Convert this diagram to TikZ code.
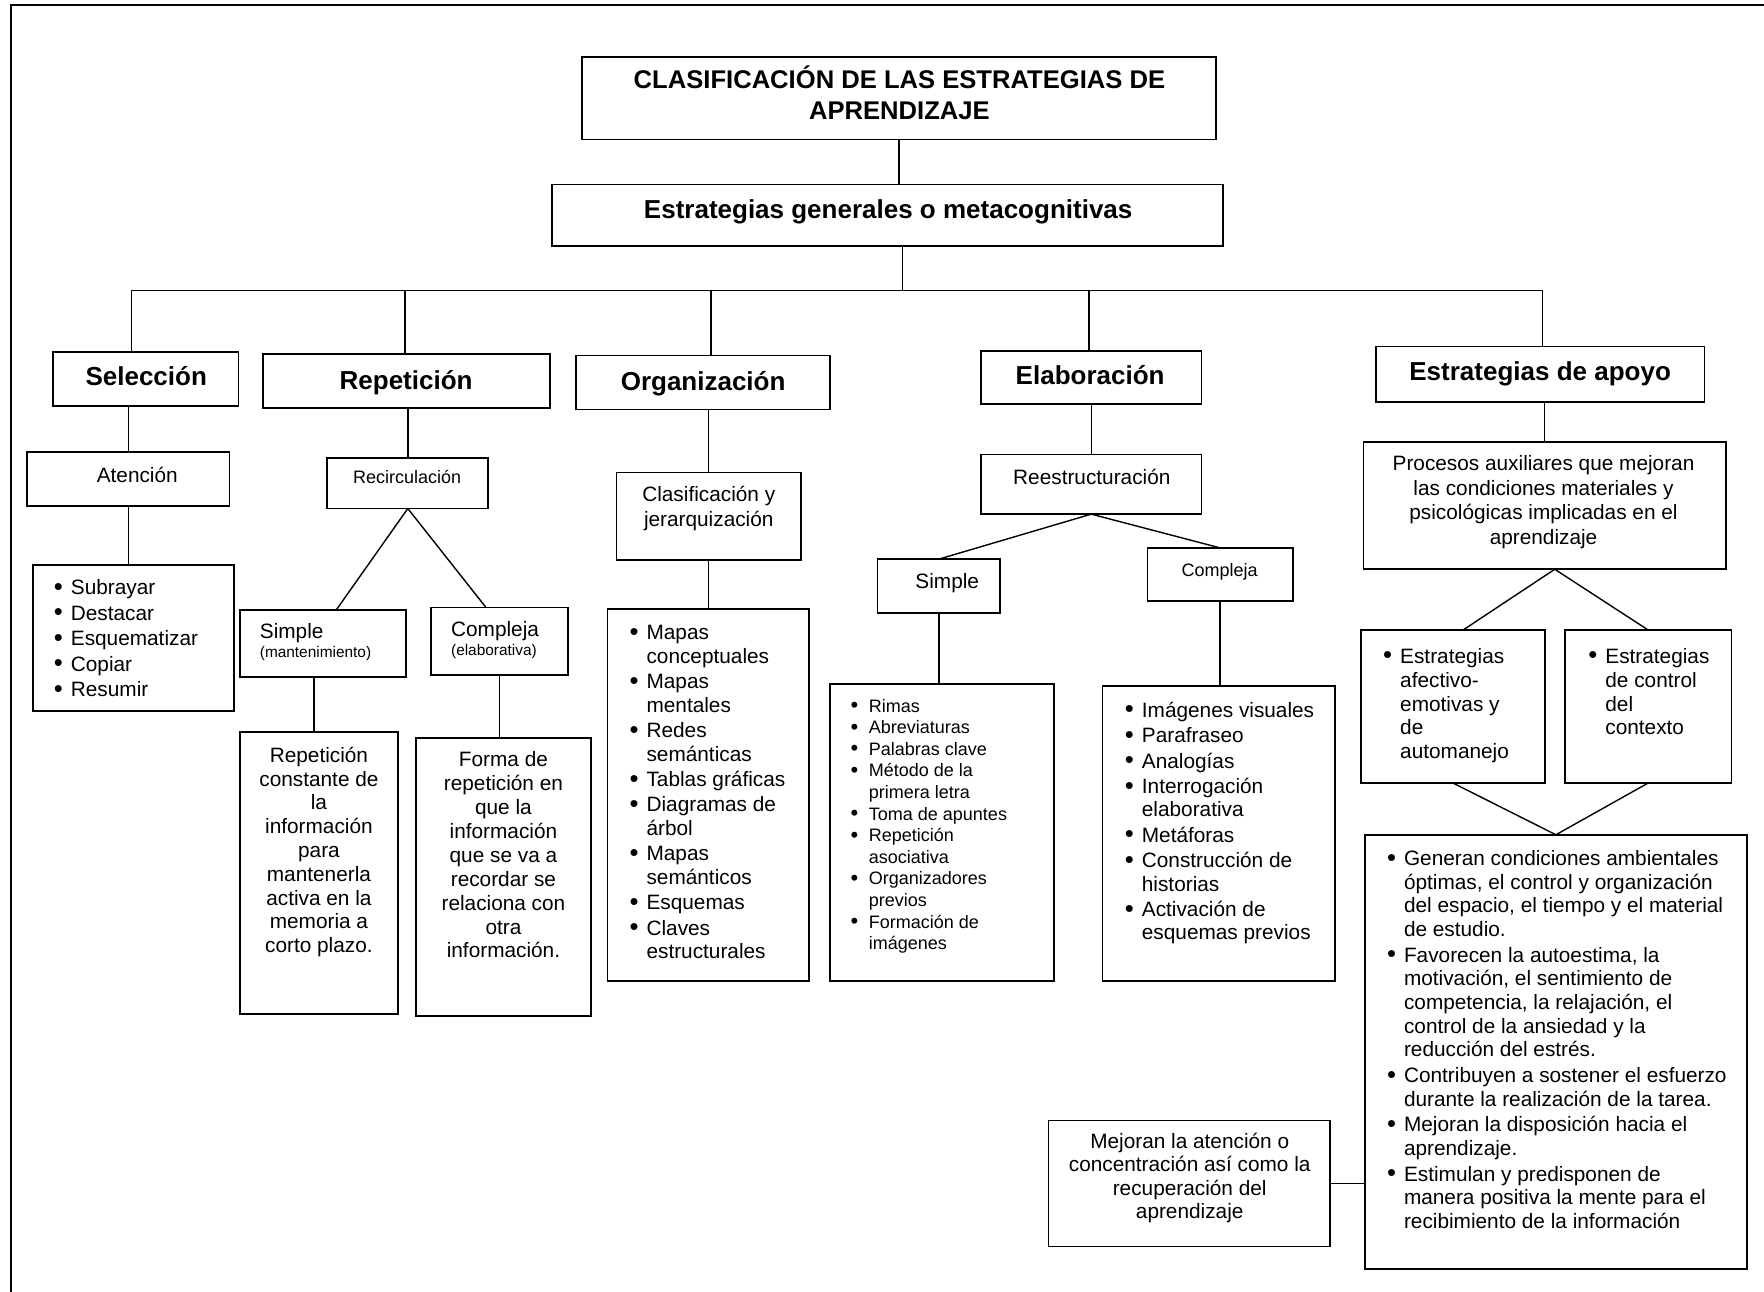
\documentclass[tikz,border=0pt]{standalone}
\usepackage{fontspec}
\setmainfont{Liberation Sans}
\usepackage{array}

% one drawing unit
\newcommand\pxu{0.5625pt}

% type sizes
\newcommand\fTitle{\fontsize{12.8}{15.2}\bfseries\selectfont}
\newcommand\fHead{\fontsize{13}{15.6}\bfseries\selectfont}
\newcommand\fBody[1]{\fontsize{10.4}{#1}\selectfont}
\newcommand\fSmall[1]{\fontsize{9}{#1}\selectfont}
\newcommand\fTiny{\fontsize{7.7}{9}\selectfont}

% list bullets, a little heavier than the text bullet
\newcommand\bul{\raisebox{-0.3pt}{\fontsize{12.8}{12}\selectfont\textbullet}}
\newcommand\bus{\raisebox{-0.25pt}{\fontsize{11}{10}\selectfont\textbullet}}

% text blocks: first baseline is the node's base
\newcommand\ctext[1]{\begin{tabular}[t]{@{}c@{}}#1\end{tabular}}
\newcommand\ltext[1]{\begin{tabular}[t]{@{}l@{}}#1\end{tabular}}
\newcommand\blist[2]{\begin{tabular}[t]{@{}p{#1}@{}l@{}}#2\end{tabular}}

\tikzset{
  cbox/.style n args={4}{draw, line width=0.9pt, inner sep=0pt, outer sep=0pt,
    minimum width={(#3-#1)*\pxu}, minimum height={(#4-#2)*\pxu},
    at={({(#1+#3)/2},{(#2+#4)/2})}},
  conn/.style={line width=0.7pt},
  txt/.style={inner sep=0pt, outer sep=0pt},
}

\begin{document}
\begin{tikzpicture}[x=0.5625pt, y=-0.5625pt]
\useasboundingbox (0,0) rectangle (1568,1148);

% page frame (top and left rules)
\draw[line width=1.1pt] (9.8,1148) -- (9.8,4.4) -- (1568,4.4);

% ---------- boxes ----------
\node[cbox={517}{51}{1081}{124}] (title) {};
\node[cbox={491}{164}{1087}{219}] (gen) {};
\node[cbox={47}{313}{212}{361}] (sel) {};
\node[cbox={234}{315}{489}{363}] (rep) {};
\node[cbox={512}{316}{738}{364}] (org) {};
\node[cbox={872}{312}{1068}{359}] (ela) {};
\node[cbox={1223}{308}{1515}{357}] (apo) {};
\node[cbox={24}{402}{204}{450}] (aten) {};
\node[cbox={291}{407}{434}{452}] (recirc) {};
\node[cbox={548}{420}{712}{498}] (clas) {};
\node[cbox={872}{404}{1068}{457}] (reest) {};
\node[cbox={1212}{393}{1534}{506}] (proc) {};
\node[cbox={29}{502}{208}{632}] (sellist) {};
\node[cbox={213}{542}{361}{602}] (simp) {};
\node[cbox={383}{540}{505}{600}] (comp) {};
\node[cbox={213}{651}{354}{901}] (repc) {};
\node[cbox={370}{656}{525}{903}] (forma) {};
\node[cbox={540}{541}{719}{872}] (orglist) {};
\node[cbox={780}{497}{889}{545}] (esimp) {};
\node[cbox={1020}{487}{1149}{534}] (ecomp) {};
\node[cbox={738}{608}{937}{872}] (eslist) {};
\node[cbox={980}{610}{1187}{872}] (eclist) {};
\node[cbox={1210}{560}{1373}{696}] (afec) {};
\node[cbox={1391}{560}{1539}{696}] (ctrl) {};
\node[cbox={1213}{742}{1553}{1128}] (big) {};
\node[cbox={932}{996}{1182}{1108}] (mej) {};

% ---------- texts ----------
\node[txt, anchor=base, font=\fTitle] (titleT) at (799.5,79)
  {\ctext{CLASIFICACIÓN DE LAS ESTRATEGIAS DE\\APRENDIZAJE}};
\node[txt, anchor=base, font=\fHead] (genT) at (789.5,194) {Estrategias generales o metacognitivas};
\node[txt, anchor=base, font=\fHead] (selT) at (130,343) {Selección};
\node[txt, anchor=base, font=\fHead] (repT) at (361,346) {Repetición};
\node[txt, anchor=base, font=\fHead] (orgT) at (625,347) {Organización};
\node[txt, anchor=base, font=\fHead] (elaT) at (969,342) {Elaboración};
\node[txt, anchor=base, font=\fHead] (apoT) at (1369,338) {Estrategias de apoyo};

\node[txt, anchor=base, font=\fBody{12}] (atenT) at (122,428.5) {Atención};
\node[txt, anchor=base, font=\fSmall{11}] (recircT) at (362,430) {Recirculación};
\node[txt, anchor=base, font=\fBody{12.4}] (clasT) at (630,445.5)
  {\ctext{Clasificación y\\jerarquización}};
\node[txt, anchor=base, font=\fBody{12}] (reestT) at (970.5,430.5) {Reestructuración};
\node[txt, anchor=base, font=\fBody{12.2}] (procT) at (1372,418.5)
  {\ctext{Procesos auxiliares que mejoran\\las condiciones materiales y\\psicológicas implicadas en el\\aprendizaje}};

\node[txt, anchor=base west, font=\fBody{12.8}] (sellistT) at (47.9,528.5)
  {\blist{8.5pt}{\bul & Subrayar\\ \bul & Destacar\\ \bul & Esquematizar\\ \bul & Copiar\\ \bul & Resumir}};

\node[txt, anchor=base west, font=\fBody{9.3}] (simpT) at (231,567.5)
  {\ltext{Simple\\{\fTiny(mantenimiento)}}};
\node[txt, anchor=base west, font=\fBody{9.8}] (compT) at (401,565.5)
  {\ltext{Compleja\\{\fTiny(elaborativa)}}};

\node[txt, anchor=base, font=\fBody{11.9}] (repcT) at (283.5,677.5)
  {\ctext{Repetición\\constante de\\la\\información\\para\\mantenerla\\activa en la\\memoria a\\corto plazo.}};
\node[txt, anchor=base, font=\fBody{11.95}] (formaT) at (447.5,681.5)
  {\ctext{Forma de\\repetición en\\que la\\información\\que se va a\\recordar se\\relaciona con\\otra\\información.}};

\node[txt, anchor=base west, font=\fBody{11.8}] (orglistT) at (559.6,568.5)
  {\blist{8.5pt}{%
   \bul & Mapas\\ & conceptuales\\[0.9pt]
   \bul & Mapas\\ & mentales\\[0.9pt]
   \bul & Redes\\ & semánticas\\[0.9pt]
   \bul & Tablas gráficas\\[0.9pt]
   \bul & Diagramas de\\ & árbol\\[0.9pt]
   \bul & Mapas\\ & semánticos\\[0.9pt]
   \bul & Esquemas\\[0.9pt]
   \bul & Claves\\ & estructurales}};

\node[txt, anchor=base, font=\fBody{12}] (esimpT) at (842,523.5) {Simple};
\node[txt, anchor=base, font=\fSmall{11}] (ecompT) at (1084,512) {Compleja};

\node[txt, anchor=base west, font=\fSmall{10.8}] (eslistT) at (756.2,633)
  {\blist{9.1pt}{%
   \bus & Rimas\\
   \bus & Abreviaturas\\
   \bus & Palabras clave\\
   \bus & Método de la\\ & primera letra\\
   \bus & Toma de apuntes\\
   \bus & Repetición\\ & asociativa\\
   \bus & Organizadores\\ & previos\\
   \bus & Formación de\\ & imágenes}};

\node[txt, anchor=base west, font=\fBody{11.7}] (eclistT) at (999.9,637.5)
  {\blist{8.5pt}{%
   \bul & Imágenes visuales\\[1pt]
   \bul & Parafraseo\\[1pt]
   \bul & Analogías\\[1pt]
   \bul & Interrogación\\ & elaborativa\\[1pt]
   \bul & Metáforas\\[1pt]
   \bul & Construcción de\\ & historias\\[1pt]
   \bul & Activación de\\ & esquemas previos}};

\node[txt, anchor=base west, font=\fBody{11.95}] (afecT) at (1229.5,589.5)
  {\blist{8.5pt}{\bul & Estrategias\\ & afectivo-\\ & emotivas y\\ & de\\ & automanejo}};
\node[txt, anchor=base west, font=\fBody{11.95}] (ctrlT) at (1411.9,589.5)
  {\blist{8.5pt}{\bul & Estrategias\\ & de control\\ & del\\ & contexto}};

\node[txt, anchor=base west, font=\fBody{11.8}] (bigT) at (1232.9,769.5)
  {\blist{8.5pt}{%
   \bul & Generan condiciones ambientales\\
    & óptimas, el control y organización\\
    & del espacio, el tiempo y el material\\
    & de estudio.\\[1.1pt]
   \bul & Favorecen la autoestima, la\\
    & motivación, el sentimiento de\\
    & competencia, la relajación, el\\
    & control de la ansiedad y la\\
    & reducción del estrés.\\[1.1pt]
   \bul & Contribuyen a sostener el esfuerzo\\
    & durante la realización de la tarea.\\[1.1pt]
   \bul & Mejoran la disposición hacia el\\
    & aprendizaje.\\[1.1pt]
   \bul & Estimulan y predisponen de\\
    & manera positiva la mente para el\\
    & recibimiento de la información}};

\node[txt, anchor=base, font=\fBody{11.8}] (mejT) at (1057.5,1020.5)
  {\ctext{Mejoran la atención o\\concentración así como la\\recuperación del\\aprendizaje}};

% ---------- connectors ----------
\coordinate (bus0) at (802,258);
\coordinate (bus1) at (117,258);
\coordinate (bus2) at (360,258);
\coordinate (bus3) at (632,258);
\coordinate (bus4) at (968,258);
\coordinate (bus5) at (1371,258);

\draw[conn] (title.south) -- (title.south |- gen.north);
\draw[conn] (gen.south -| bus0) -- (bus0);
\draw[conn] (bus1) -- (bus5);
\foreach \b/\n in {bus1/sel, bus2/rep, bus3/org, bus4/ela, bus5/apo}
  \draw[conn] (\b) -- (\b |- \n.north);

% Selección
\draw[conn] (sel.south -| aten.north) -- (aten.north);
\draw[conn] (aten.south) -- (aten.south |- sellist.north);

% Repetición
\draw[conn] (rep.south -| recirc.north) -- (recirc.north);
\draw[conn] (recirc.south) -- ([xshift=12*\pxu]simp.north);
\draw[conn] (recirc.south) -- ([xshift=-12*\pxu]comp.north);
\path ([xshift=-8*\pxu]simp.south) coordinate (simpout);
\draw[conn] (simpout) -- (simpout |- repc.north);
\draw[conn] (comp.south) -- (comp.south |- forma.north);

% Organización
\draw[conn] (org.south -| clas.north) -- (clas.north);
\draw[conn] (clas.south) -- (clas.south |- orglist.north);

% Elaboración
\draw[conn] (ela.south) -- (ela.south |- reest.north);
\draw[conn] (reest.south) -- (esimp.north);
\draw[conn] (reest.south) -- (ecomp.north);
\draw[conn] (esimp.south) -- (esimp.south |- eslist.north);
\draw[conn] (ecomp.south) -- (ecomp.south |- eclist.north);

% Estrategias de apoyo
\draw[conn] (apo.south -| proc.north) -- (proc.north);
\path ([xshift=9*\pxu]proc.south) coordinate (procout);
\draw[conn] (procout) -- ([xshift=9*\pxu]afec.north);
\draw[conn] (procout) -- (ctrl.north);
\draw[conn] (afec.south) -- (big.north);
\draw[conn] (ctrl.south) -- (big.north);
\draw[conn] (mej.east) -- (mej.east -| big.west);

\end{tikzpicture}
\end{document}
